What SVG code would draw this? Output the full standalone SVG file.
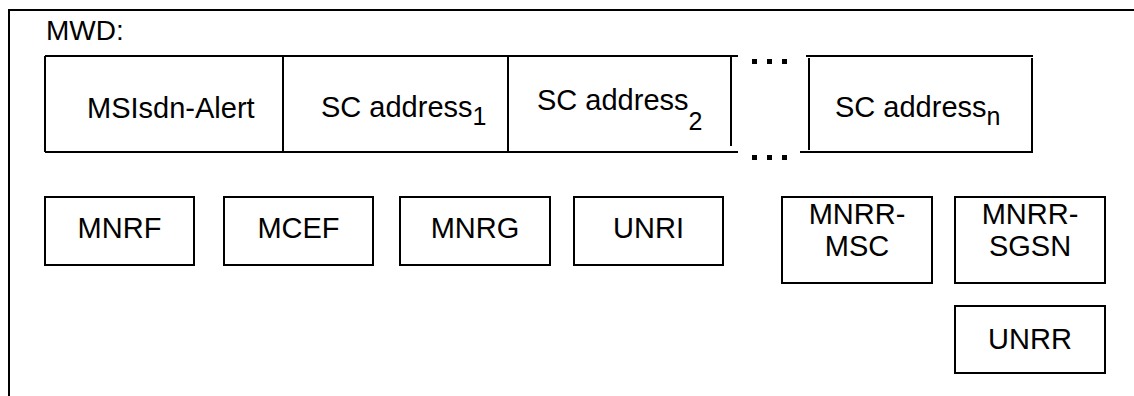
<svg xmlns="http://www.w3.org/2000/svg" width="1134" height="396" viewBox="0 0 1134 396">
<style>
.ln{stroke:#000;stroke-width:2;fill:none}
.bx{stroke:#000;stroke-width:2;fill:#fff}
.t{font-family:"Liberation Sans",Arial,sans-serif;font-size:29px;fill:#000}
.s{font-size:25px}
.c{text-anchor:middle}
</style>
<rect width="1134" height="396" fill="#fff"/>
<g id="frame">
<path class="ln" d="M9,396 V10 H1134"/>
<text class="t" x="46" y="40" style="font-size:28px">MWD:</text>
</g>
<g id="mwd-table">
<path class="ln" d="M45,56 H738 M45,152 H738 M45,56 V152 M283,56 V152 M508,56 V152 M731,56 V146"/>
<g fill="#000">
<rect x="752" y="59" width="5" height="5"/><rect x="767" y="59" width="5" height="5"/><rect x="782" y="59" width="5" height="5"/>
<rect x="752" y="155" width="5" height="5"/><rect x="767" y="155" width="5" height="5"/><rect x="782" y="155" width="5" height="5"/>
</g>
<path class="ln" d="M806,56 H1033 M800,152 H1033 M809,58 V150 M1032,58 V152"/>
</g>
<g id="msisdn"><text class="t" x="87" y="118">MSIsdn-Alert</text></g>
<g id="sc1"><text class="t" x="321" y="117">SC address<tspan class="s" dy="8">1</tspan></text></g>
<g id="sc2"><text class="t" x="537" y="110">SC address<tspan class="s" dy="20">2</tspan></text></g>
<g id="scn"><text class="t" x="835" y="117">SC address<tspan class="s" dy="8">n</tspan></text></g>
<g id="mnrf"><rect class="bx" x="45" y="197" width="149" height="68"/><text class="t c" x="119.5" y="238">MNRF</text></g>
<g id="mcef"><rect class="bx" x="224" y="197" width="149" height="68"/><text class="t c" x="298.5" y="238">MCEF</text></g>
<g id="mnrg"><rect class="bx" x="400" y="197" width="150" height="68"/><text class="t c" x="475" y="238">MNRG</text></g>
<g id="unri"><rect class="bx" x="574" y="197" width="149" height="68"/><text class="t c" x="648.5" y="238">UNRI</text></g>
<g id="mnrr-msc"><rect class="bx" x="782" y="197" width="150" height="86"/><text class="t c" x="857" y="224">MNRR-<tspan x="857" dy="32">MSC</tspan></text></g>
<g id="mnrr-sgsn"><rect class="bx" x="955" y="197" width="150" height="86"/><text class="t c" x="1030" y="224">MNRR-<tspan x="1030" dy="32">SGSN</tspan></text></g>
<g id="unrr"><rect class="bx" x="955" y="306" width="150" height="67"/><text class="t c" x="1030" y="349">UNRR</text></g>
<g id="connectors"/>
</svg>
